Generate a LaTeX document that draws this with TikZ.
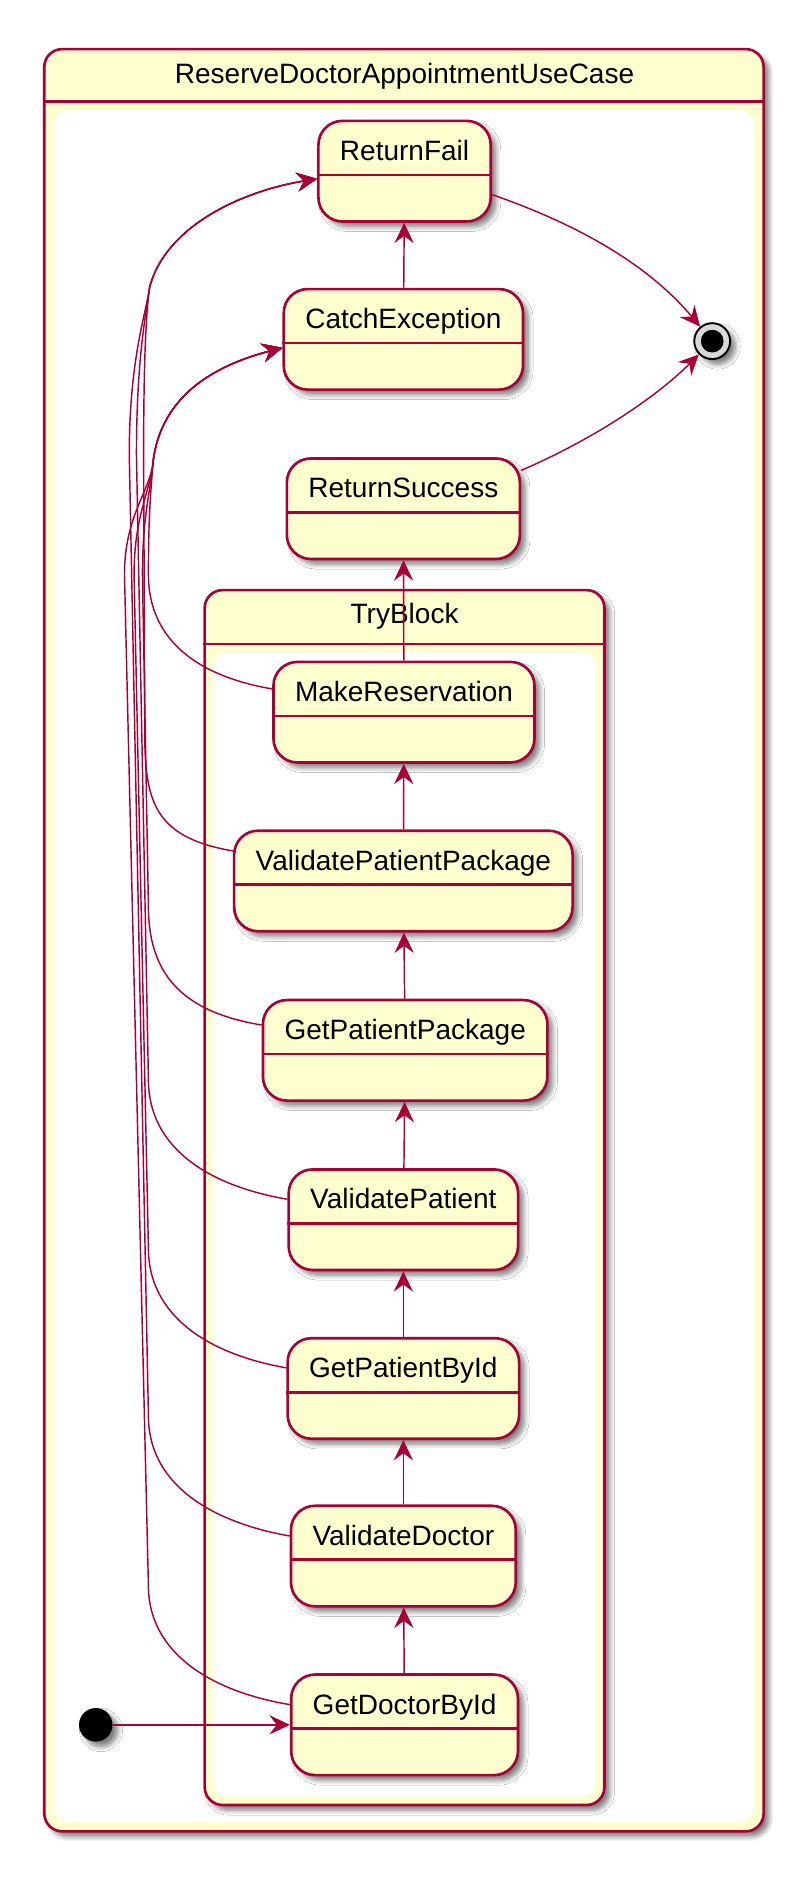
\documentclass[tikz,border=0pt]{standalone}
\usepackage{fontspec}
\setmainfont{Liberation Sans}
\usetikzlibrary{arrows.meta,shadows.blur}
\definecolor{umlred}{HTML}{A80036}
\definecolor{umlfill}{HTML}{FEFECE}

\begin{document}
\begin{tikzpicture}[x=0.5pt,y=-0.5pt,font=\fontsize{11.7}{14}\selectfont]
	 \tikzstyle{shade}=[blur shadow={shadow xshift=2.2pt,shadow yshift=-2.2pt,shadow opacity=50,shadow blur steps=6,shadow blur radius=2pt}]
	 \tikzstyle{composite}=[draw=umlred,fill=umlfill,line width=1.1pt,rounded corners=7.5pt,inner sep=0pt,shade]
	 \tikzstyle{statebox}=[draw=umlred,fill=umlfill,line width=1.1pt,rounded corners=10pt,inner xsep=9pt,inner ysep=0pt,text height=16.5pt,text depth=25.5pt,shade]
	 \tikzstyle{trans}=[draw=umlred,line width=0.6pt,-{Stealth[length=8.5pt,width=8pt,inset=3pt]}]
	 \tikzstyle{sepline}=[draw=umlred,line width=1.1pt]

	 \useasboundingbox (0,0) rectangle (660,1574);

	 % outer use case
	 \node[composite,minimum width=300.5pt,minimum height=744.5pt] (rd) at (337.5,785.5) {};
	 \node (rdtitle) at (338,64) {ReserveDoctorAppointmentUseCase};
	 \draw[sepline] (rd.west |- 0,85) -- (rd.east |- 0,85);
	 \fill[white,rounded corners=6pt] (45,92) rectangle (630,1522);

	 % try block
	 \node[composite,minimum width=167pt,minimum height=507.5pt] (tb) at (338,1000.5) {};
	 \node (tbtitle) at (338,515) {TryBlock};
	 \draw[sepline] (tb.west |- 0,538) -- (tb.east |- 0,538);
	 \fill[white,rounded corners=6pt] (178,545) rectangle (498,1501);

	 \node[statebox] (rf) at (338,143) {ReturnFail};
	 \node[statebox] (ce) at (337,283.5) {CatchException};
	 \node[statebox] (rs) at (337,425) {ReturnSuccess};
	 \node[statebox] (mr) at (337.5,595) {MakeReservation};
	 \node[statebox] (vpp) at (337,736) {ValidatePatientPackage};
	 \node[statebox] (gpp) at (338.5,877.5) {GetPatientPackage};
	 \node[statebox] (vp) at (337,1019) {ValidatePatient};
	 \node[statebox] (gpi) at (337,1160) {GetPatientById};
	 \node[statebox] (vdoc) at (337,1300) {ValidateDoctor};
	 \node[statebox] (gd) at (338,1441) {GetDoctorById};

	 % state separators
	 \draw[sepline] ([yshift=-23.1pt]rf.north west) -- ([yshift=-23.1pt]rf.north east);
	 \draw[sepline] ([yshift=-23.1pt]ce.north west) -- ([yshift=-23.1pt]ce.north east);
	 \draw[sepline] ([yshift=-23.1pt]rs.north west) -- ([yshift=-23.1pt]rs.north east);
	 \draw[sepline] ([yshift=-23.1pt]mr.north west) -- ([yshift=-23.1pt]mr.north east);
	 \draw[sepline] ([yshift=-23.1pt]vpp.north west) -- ([yshift=-23.1pt]vpp.north east);
	 \draw[sepline] ([yshift=-23.1pt]gpp.north west) -- ([yshift=-23.1pt]gpp.north east);
	 \draw[sepline] ([yshift=-23.1pt]vp.north west) -- ([yshift=-23.1pt]vp.north east);
	 \draw[sepline] ([yshift=-23.1pt]gpi.north west) -- ([yshift=-23.1pt]gpi.north east);
	 \draw[sepline] ([yshift=-23.1pt]vdoc.north west) -- ([yshift=-23.1pt]vdoc.north east);
	 \draw[sepline] ([yshift=-23.1pt]gd.north west) -- ([yshift=-23.1pt]gd.north east);

	 \node[circle,fill=black,minimum size=14pt,inner sep=0pt,shade] (ini) at (80,1441) {};
	 \node[circle,draw=black,fill=gray!30,line width=0.8pt,minimum size=15pt,inner sep=0pt,shade] (fin) at (595,285) {};
	 \node[circle,fill=black,minimum size=9.5pt,inner sep=0pt] (finin) at (fin) {};

	 \draw[trans] (ini) -- (gd);
	 \draw[trans] (gd) -- (vdoc);
	 \draw[trans] (vdoc) -- (gpi);
	 \draw[trans] (gpi) -- (vp);
	 \draw[trans] (vp) -- (gpp);
	 \draw[trans] (gpp) -- (vpp);
	 \draw[trans] (vpp) -- (mr);
	 \draw[trans] (mr) -- (rs);
	 \draw[trans] (ce) -- (rf);
	 \draw[trans] (rf.-15) .. controls (490,190) and (545,225) .. (fin);
	 \draw[trans] (rs.18) .. controls (500,365) and (550,330) .. (fin);

	 % failures into CatchException
	 \draw[trans] (mr.170) .. controls (160,564) and (124,531) .. (124,480) .. controls (124,430) and (126,410) .. (128,385) .. controls (135,330) and (180,305) .. (ce.184);
	 \draw[trans] (gpp.170) .. controls (150,845) and (124,812) .. (124,757) -- (119,480) .. controls (119,430) and (126,410) .. (128,385) .. controls (135,330) and (180,305) .. (ce.184);
	 \draw[trans] (gpi.170) .. controls (172,1131) and (124,1098) .. (124,1043) -- (112,480) .. controls (112,430) and (126,410) .. (128,385) .. controls (135,330) and (180,305) .. (ce.184);
	 \draw[trans] (gd.170) .. controls (175,1413) and (124,1380) .. (124,1325) -- (104,480) .. controls (104,430) and (126,410) .. (128,385) .. controls (135,330) and (180,305) .. (ce.184);

	 % failures into ReturnFail
	 \draw[trans] (vpp.170) .. controls (130,700) and (122,670) .. (121,620) -- (120,380) .. controls (120,300) and (122,262) .. (125,240) .. controls (138,190) and (200,160) .. (rf.185);
	 \draw[trans] (vp.170) .. controls (171,990) and (124,957) .. (124,902) -- (114,380) .. controls (114,300) and (122,262) .. (125,240) .. controls (138,190) and (200,160) .. (rf.185);
	 \draw[trans] (vdoc.170) .. controls (173,1271) and (124,1238) .. (124,1183) -- (108,380) .. controls (108,300) and (122,262) .. (125,240) .. controls (138,190) and (200,160) .. (rf.185);
\end{tikzpicture}
\end{document}
